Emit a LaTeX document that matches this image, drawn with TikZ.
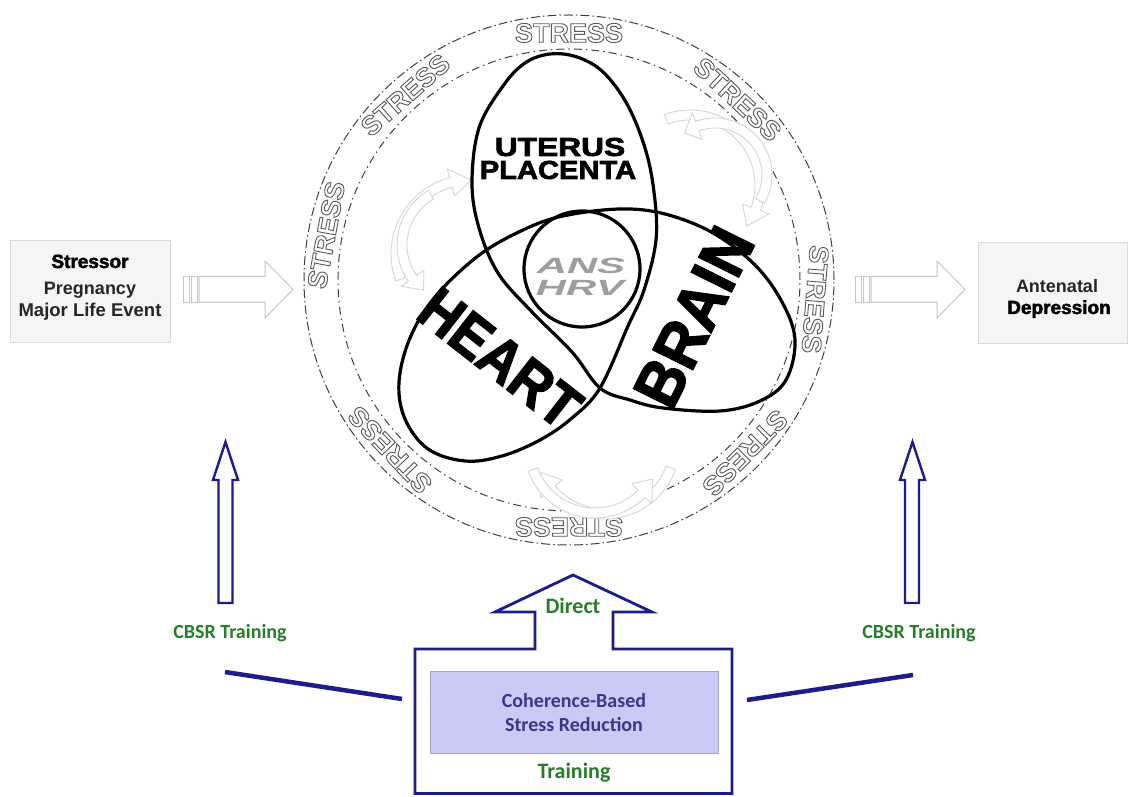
\documentclass[tikz,border=0pt]{standalone}
\usepackage{fontspec}
\usepackage{graphicx}
\setmainfont{Liberation Sans}
\newfontfamily\calfont{Carlito}
\newfontfamily\heavyfont[FakeBold=2.4]{Liberation Sans Bold}
\usetikzlibrary{calc}
\definecolor{navy}{RGB}{28,28,140}
\definecolor{cbsrgreen}{RGB}{40,125,40}
\definecolor{lav}{RGB}{202,202,246}
\definecolor{lavborder}{RGB}{165,165,215}
\definecolor{purpletext}{RGB}{55,55,140}
\newcommand\outlinetext[1]{\special{pdf:literal direct 1 Tr 0.9 w}#1\special{pdf:literal direct 0 Tr}}
\newcommand\stresslabel[2]{%
  \node[stresstxt, rotate=#2-90] (#1) at ($(ring)+(#2:247)$) {\outlinetext{STRESS}};%
}
\newcommand\carrow[5]{%
  \pgfmathsetmacro\tipang{#5+(#5>#4 ? 1 : -1)*16}%
  \pgfmathsetmacro\ro{#3+5}\pgfmathsetmacro\ri{#3-5}%
  \draw[grayarrow] ({#1+\ro*cos(#4)},{#2+\ro*sin(#4)})
    arc[start angle=#4, end angle=#5, radius=\ro]
    -- ({#1+(#3+14)*cos(#5)},{#2+(#3+14)*sin(#5)})
    -- ({#1+#3*cos(\tipang)},{#2+#3*sin(\tipang)})
    -- ({#1+(#3-14)*cos(#5)},{#2+(#3-14)*sin(#5)})
    -- ({#1+\ri*cos(#5)},{#2+\ri*sin(#5)})
    arc[start angle=#5, end angle=#4, radius=\ri]
    -- cycle;%
}
\begin{document}
\begin{tikzpicture}[x=1pt,y=1pt,
  grayarrow/.style={draw=black!16, fill=white, line width=0.9pt, line join=round},
  bigarrow/.style={draw=black!22, fill=white, line width=1pt},
  venn/.style={draw=black, line width=3.2pt},
  stresstxt/.style={font=\bfseries\fontsize{27}{27}\selectfont, text=black!65, inner sep=0pt},
  sidebox/.style={draw=black!14, fill=black!4, line width=0.8pt},
  bluearrow/.style={draw=navy, fill=white, line width=2.4pt, line join=miter},
  blueline/.style={draw=navy, line width=4.5pt},
  greentxt/.style={font=\calfont\bfseries\fontsize{20}{20}\selectfont, text=cbsrgreen, inner sep=0pt},
  bigword/.style={font=\heavyfont\fontsize{54}{54}\selectfont, inner sep=0pt},
  organ/.style={font=\heavyfont\fontsize{26}{26}\selectfont, inner sep=0pt},
  grayword/.style={font=\bfseries\itshape\fontsize{22}{22}\selectfont, text=black!38, inner sep=0pt}
]
\useasboundingbox (0,0) rectangle (1128,796);
\fill[white] (0,0) rectangle (1128,796);

% ---- centre coordinates
\coordinate (ring) at (569,516);
\coordinate (ansc) at (582,527);

% ---- stress ring (labels first)
\draw[black!75, line width=1pt, dash pattern=on 9pt off 3pt on 1.5pt off 3pt] (ring) circle[radius=265];
\draw[black!75, line width=1pt, dash pattern=on 8pt off 4pt on 1.5pt off 4pt] (ring) circle[radius=231];
\stresslabel{s1}{90}
\stresslabel{s2}{131.5}
\stresslabel{s3}{169.5}
\stresslabel{s4}{47}
\stresslabel{s5}{-4.5}
\stresslabel{s6}{-44.5}
\stresslabel{s7}{-90}
\stresslabel{s8}{-136.5}

% ---- faint curved arrows
\carrow{470}{542}{74}{200}{105}
\carrow{460}{551}{58}{120}{215}
\carrow{690}{611}{70}{110}{-20}
\carrow{715}{621}{52}{-30}{110}
\carrow{605}{352}{70}{-20}{-140}
\carrow{595}{349}{66}{-160}{-45}

% ---- trefoil of uterus, heart and brain (image coordinates)
\begin{scope}[shift={(0,796)}, yscale=-1]
\draw[venn, line join=round] plot[smooth cycle, tension=0.6] coordinates {
  (550,54) (577,57) (603,72) (627,104) (645,148) (654,192) (656,240) (644,290) (628,326)
  (600,388) (572,418) (540,440) (502,456) (465,461) (428,449) (405,419) (399,382)
  (410,338) (435,297) (478,256) (523,230) (563,216) (620,209) (665,214) (713,233)
  (755,265) (782,302) (795,340) (786,380) (760,401) (720,411) (663,408) (630,400)
  (600,388) (572,352) (531,311) (498,273) (479,228) (472,183) (479,128) (503,86) (525,63)};
\end{scope}
\draw[venn] (ansc) circle[radius=58];

% ---- organ words
\node[organ] (uterus) at (560,649) {\scalebox{1.22}[1]{UTERUS}};
\node[organ] (placenta) at (558,626) {\scalebox{1.12}[1]{PLACENTA}};
\node[bigword, rotate=-38] (heart) at (500,438) {\scalebox{1}[1.12]{HEART}};
\node[bigword, rotate=63.6, font=\heavyfont\fontsize{60}{60}\selectfont] (brain) at (694,479) {\scalebox{1}[1.08]{BRAIN}};
\node[grayword] (ans) at (581,530) {\scalebox{1.9}[1]{ANS}};
\node[grayword] (hrv) at (580,508) {\scalebox{1.9}[1]{HRV}};

% ---- side boxes
\draw[sidebox] (10,454) rectangle (170,556);
\node[font=\heavyfont\fontsize{19}{19}\selectfont, anchor=base] (stressor) at (90,528) {Stressor};
\node[font=\bfseries\fontsize{18}{18}\selectfont, text=black!85, anchor=base] (pregnancy) at (90,501) {Pregnancy};
\node[font=\bfseries\fontsize{18.5}{18.5}\selectfont, text=black!85, anchor=base] (lifeevent) at (90,479) {Major Life Event};

\draw[sidebox] (978,453) rectangle (1127.5,554);
\node[font=\bfseries\fontsize{18}{18}\selectfont, text=black!85, anchor=base] (antenatal) at (1057,503) {Antenatal};
\node[font=\heavyfont\fontsize{19}{19}\selectfont, anchor=base] (depression) at (1059,482) {Depression};

% ---- big hollow grey arrows
\draw[bigarrow] (183,493.5) rectangle (189,519.5);
\draw[bigarrow] (191,493.5) rectangle (197,519.5);
\draw[bigarrow] (199,493.5) -- (265,493.5) -- (265,478) -- (293,506.5) -- (265,535) -- (265,519.5) -- (199,519.5) -- cycle;
\draw[bigarrow] (855,493.5) rectangle (861,519.5);
\draw[bigarrow] (863,493.5) rectangle (869,519.5);
\draw[bigarrow] (871,493.5) -- (937,493.5) -- (937,478) -- (965,506.5) -- (937,535) -- (937,519.5) -- (871,519.5) -- cycle;

% ---- blue up arrows
\draw[bluearrow] (218.5,193) -- (218.5,316) -- (213,316) -- (225.5,354) -- (238,316) -- (232.5,316) -- (232.5,193) -- cycle;
\draw[bluearrow] (905,193) -- (905,316) -- (900,316) -- (912.5,354) -- (925,316) -- (919,316) -- (919,193) -- cycle;
\node[greentxt] (cbsrL) at (230,163) {CBSR Training};
\node[greentxt] (cbsrR) at (919,163) {CBSR Training};

% ---- blue lines
\coordinate (laA) at (225,124);
\coordinate (laB) at (402,97);
\coordinate (lbA) at (747,96);
\coordinate (lbB) at (913,121);
\draw[blueline] (laA) -- (laB);
\draw[blueline] (lbA) -- (lbB);

% ---- training house
\draw[navy, line width=2.8pt, line join=miter] (415,2.5) -- (415,147) -- (535,147) -- (535,184) -- (495,184) -- (573,221) -- (652,184) -- (613,184) -- (613,147) -- (732,147) -- (732,2.5) -- cycle;
\draw[lavborder, fill=lav, line width=1pt] (430,43) rectangle (718,124);
\node[font=\calfont\bfseries\fontsize{20}{20}\selectfont, text=purpletext, inner sep=0pt] (cbsr1) at (574,95) {Coherence-Based};
\node[font=\calfont\bfseries\fontsize{20}{20}\selectfont, text=purpletext, inner sep=0pt] (cbsr2) at (574,71) {Stress Reduction};
\node[greentxt, font=\calfont\bfseries\fontsize{22}{22}\selectfont] (direct) at (573,190) {Direct};
\node[greentxt, font=\calfont\bfseries\fontsize{22}{22}\selectfont] (training) at (574,23) {Training};
\end{tikzpicture}
\end{document}
